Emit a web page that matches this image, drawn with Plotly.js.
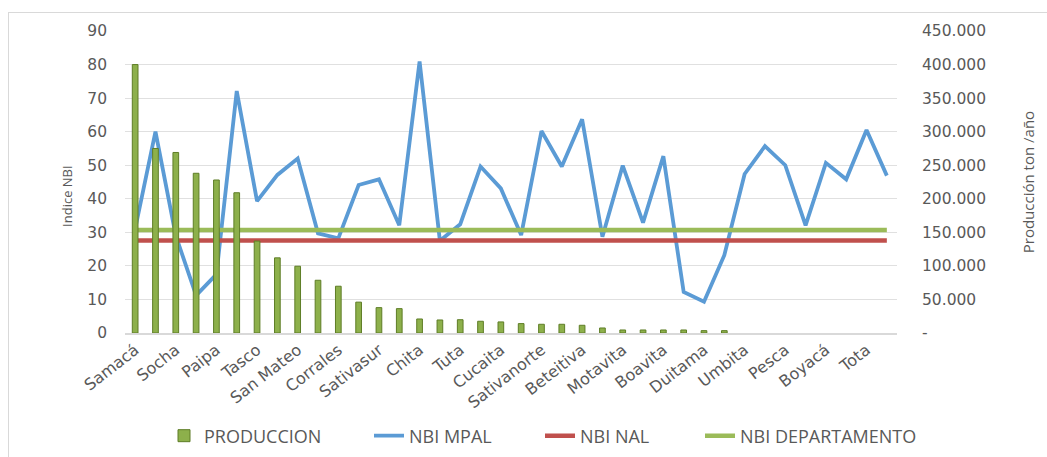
<!DOCTYPE html>
<html>
<head>
<meta charset="utf-8">
<script src="https://cdn.plot.ly/plotly-3.0.1.min.js"></script>
<style>
  html, body { margin: 0; padding: 0; background: #fff; overflow: hidden; }
  #frame { position: absolute; left: 8px; top: 12px; width: 1100px; height: 500px; border: 1px solid #d9d9d9; box-sizing: border-box; pointer-events: none; }
  #chart { position: absolute; left: 0; top: 0; width: 1047px; height: 457px; }
</style>
</head>
<body>
<div id="chart"></div>
<div id="frame"></div>
<script>
// 38 municipalities; only every other one is labelled in the reference
const tickLabels = ["Samacá","Socha","Paipa","Tasco","San Mateo","Corrales","Sativasur","Chita",
  "Tuta","Cucaita","Sativanorte","Beteitiva","Motavita","Boavita","Duitama","Umbita","Pesca","Boyacá","Tota"];
const categoryIndex = [0,1,2,3,4,5,6,7,8,9,10,11,12,13,14,15,16,17,18,19,20,21,22,23,24,25,26,27,28,29,30,31,32,33,34,35,36,37];
const labelledIndex = [0,2,4,6,8,10,12,14,16,18,20,22,24,26,28,30,32,34,36];

// Producción (ton/año); no bar is drawn for the last municipalities
const produccion = [400000,275000,269000,238000,228000,209000,137000,112000,99500,78600,
  69700,46000,37800,36300,20900,19400,19800,17500,16500,14000,
  13000,13000,11500,7500,4500,4500,4500,4500,3500,3500,
  null,null,null,null,null,null,null,null];
// NBI municipal
const nbiMpal = [31,60,29,11.2,17.5,72.1,39.3,47.1,52,29.7,
  28.2,44.1,45.8,32.1,80.9,27.5,32.4,49.6,43.1,29.2,
  60.2,49.6,63.7,28.7,49.9,32.9,52.7,12.2,9.3,23.2,
  47.4,55.7,50,32.1,50.7,45.8,60.5,46.9];
const nbiNalValue = 27.6;
const nbiDeptoValue = 30.7;
const nbiNal = categoryIndex.map(() => nbiNalValue);
const nbiDepto = categoryIndex.map(() => nbiDeptoValue);

const rightTickVals = [0,50000,100000,150000,200000,250000,300000,350000,400000,450000];
const rightTickText = ["-","50.000","100.000","150.000","200.000","250.000","300.000","350.000","400.000","450.000"];

const txt = "#595959";
const fam = "DejaVu Sans, Open Sans, sans-serif";
const fam2 = "Open Sans, DejaVu Sans, sans-serif";
const fontTick = { family: fam, size: 15.5, color: txt };

const traces = [
  { type: "bar", name: "PRODUCCION", x: categoryIndex, y: produccion, yaxis: "y2", legend: "legend",
    marker: { color: "#8DB04B", line: { color: "#5E7D26", width: 1 } } },
  { type: "scatter", mode: "lines", name: "NBI MPAL", x: categoryIndex, y: nbiMpal, legend: "legend2",
    line: { color: "#5B9BD5", width: 3.8 } },
  { type: "scatter", mode: "lines", name: "NBI NAL", x: categoryIndex, y: nbiNal, legend: "legend3",
    line: { color: "#C0504D", width: 4.5 } },
  { type: "scatter", mode: "lines", name: "NBI DEPARTAMENTO", x: categoryIndex, y: nbiDepto, legend: "legend4",
    line: { color: "#9BBB59", width: 4.5 } }
];

function legendAt(px) {
  return {
    orientation: "h", xref: "container", yref: "container",
    x: px / 1047, xanchor: "left", y: 0.046, yanchor: "middle",
    font: { family: fam2, size: 18, color: txt }, bgcolor: "rgba(0,0,0,0)"
  };
}

const layout = {
  width: 1047, height: 457,
  margin: { l: 125, r: 150, t: 31, b: 124 },
  paper_bgcolor: "rgba(0,0,0,0)", plot_bgcolor: "rgba(0,0,0,0)",
  showlegend: true,
  bargap: 0.72,
  xaxis: {
    range: [-0.5, 37.5], tickmode: "array", tickvals: labelledIndex, ticktext: tickLabels,
    tickangle: -38, tickfont: { family: fam, size: 16, color: txt }, showgrid: false, zeroline: false,
    showline: true, linecolor: "#d9d9d9", linewidth: 1.5, ticks: "", automargin: false
  },
  yaxis: {
    range: [0, 90], dtick: 10, tickfont: fontTick, showgrid: true, gridcolor: "#e0e0e0",
    zeroline: false, showline: false, ticks: "", ticklabelstandoff: 17, automargin: false
  },
  yaxis2: {
    range: [0, 450000], overlaying: "y", side: "right", tickmode: "array",
    tickvals: rightTickVals, ticktext: rightTickText, tickfont: fontTick,
    showgrid: false, zeroline: false, showline: false, ticks: "", ticklabelstandoff: 24, automargin: false
  },
  legend: legendAt(164),
  legend2: legendAt(369),
  legend3: legendAt(540),
  legend4: legendAt(700),
  annotations: [
    { text: "Indice NBI", xref: "paper", yref: "paper", x: -0.076, y: 0.455, textangle: -90,
      showarrow: false, xanchor: "center", yanchor: "middle",
      font: { family: fam2, size: 13, color: txt } },
    { text: "Producción ton /año", xref: "paper", yref: "paper", x: 1.17, y: 0.5, textangle: -90,
      showarrow: false, xanchor: "center", yanchor: "middle",
      font: { family: fam2, size: 15, color: txt } }
  ]
};

Plotly.newPlot("chart", traces, layout, { displayModeBar: false, staticPlot: true });
</script>
</body>
</html>
